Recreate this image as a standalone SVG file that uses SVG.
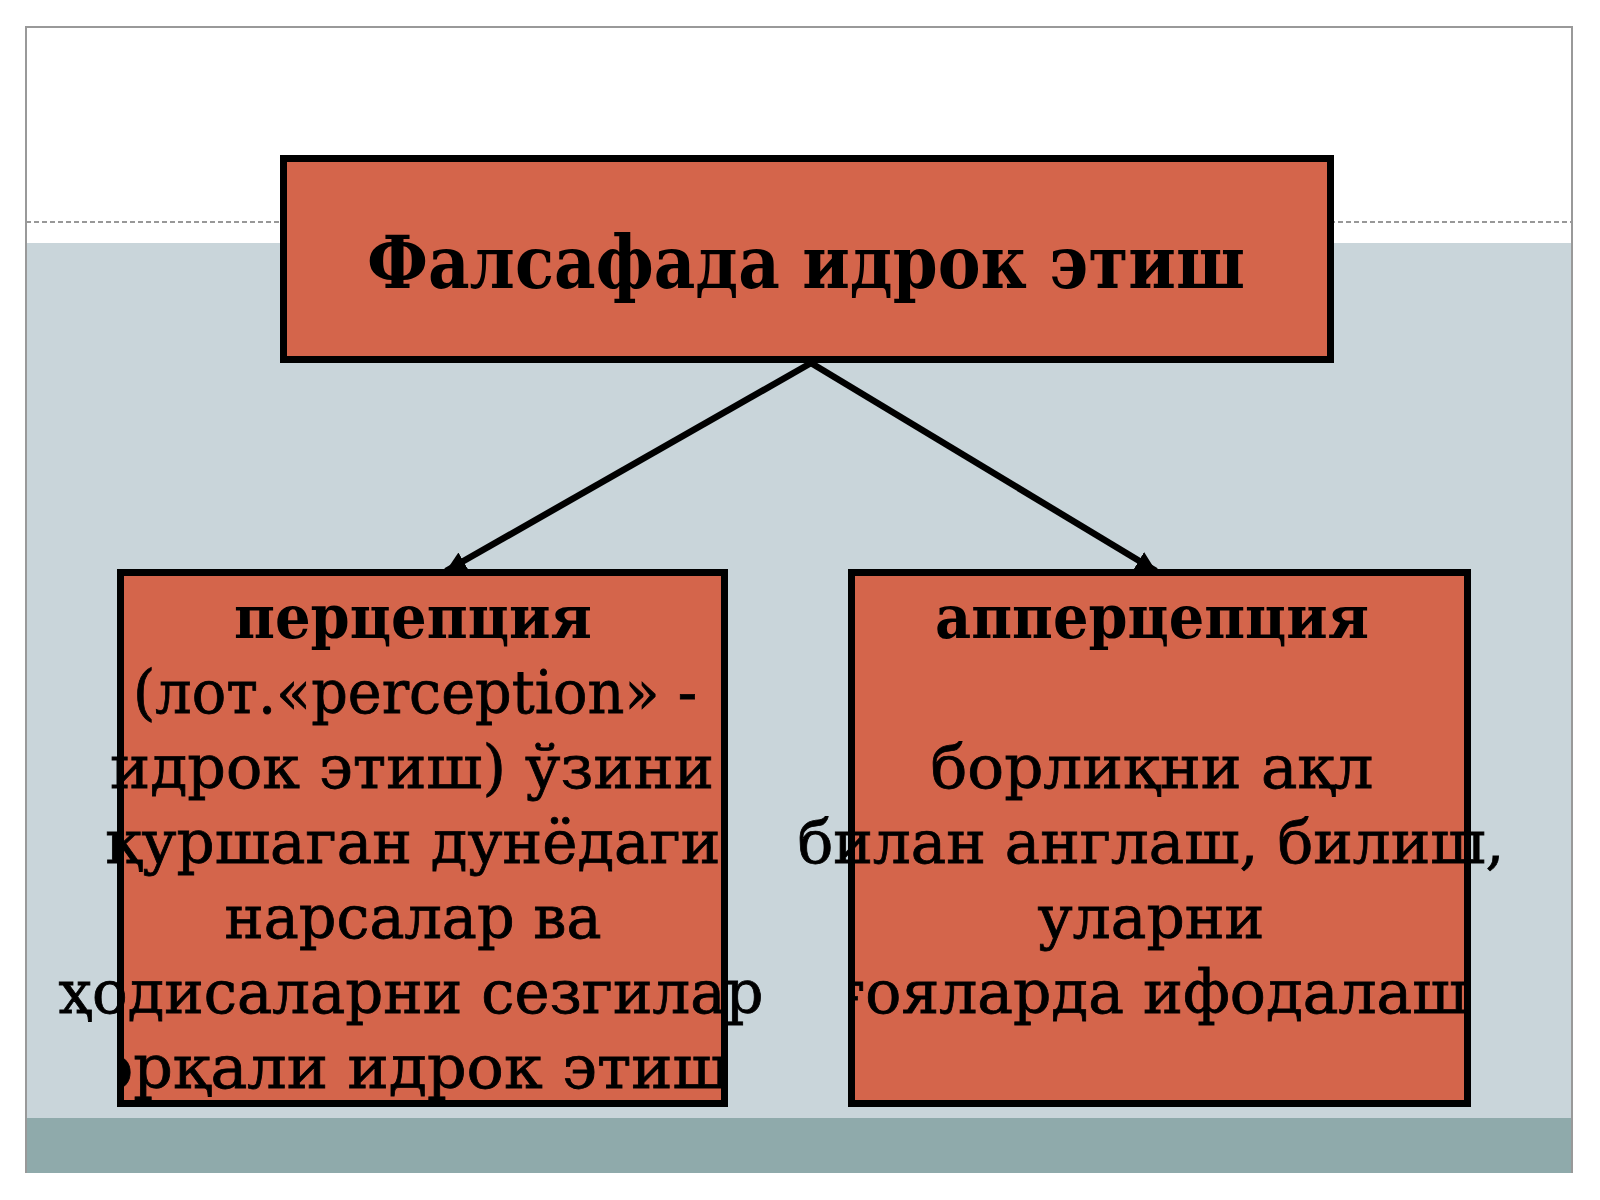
<svg xmlns="http://www.w3.org/2000/svg" width="1600" height="1200" viewBox="0 0 1600 1200">
<style>
.fill{fill:#d4654b;stroke:none}
.frame{fill:none;stroke:#000;stroke-width:7}
.t{font-family:"DejaVu Serif","Liberation Serif",serif;fill:#000;text-anchor:middle}
.b{font-weight:bold}
.body{font-size:60px}
.r{stroke:#000;stroke-width:0.8}
.conn{stroke:#000;stroke-width:6.5;fill:none;marker-end:url(#ah)}
</style>
<defs>
<marker id="ah" markerUnits="userSpaceOnUse" markerWidth="22" markerHeight="22" refX="20" refY="10" orient="auto">
<path d="M0,0 L20,10 L0,20 z" fill="#000"/>
</marker>
<clipPath id="clipL"><rect x="117" y="569" width="611" height="538"/></clipPath>
<clipPath id="clipR"><rect x="848" y="569" width="623" height="538"/></clipPath>
</defs>
<rect x="0" y="0" width="1600" height="1200" fill="#ffffff"/>
<g id="background">
<rect x="26" y="243" width="1546" height="875" fill="#c9d5da"/>
<rect x="26" y="1118" width="1546" height="55" fill="#8faaab"/>
<line x1="26" y1="222" x2="1572" y2="222" stroke="#777" stroke-width="1.5" stroke-dasharray="5,3"/>
<path d="M26,1173 V27 H1572 V1173" fill="none" stroke="#999" stroke-width="2"/>
</g>
<g id="connectors">
<line class="conn" x1="811" y1="363" x2="446" y2="571"/>
<line class="conn" x1="811" y1="363" x2="1156" y2="571"/>
</g>
<g id="node-title">
<rect class="fill" x="283.5" y="158.5" width="1047" height="201"/>
<text class="t b" x="806" y="288" font-size="72" textLength="878" lengthAdjust="spacingAndGlyphs">Фалсафада идрок этиш</text>
<rect class="frame" x="283.5" y="158.5" width="1047" height="201"/>
</g>
<g id="node-perception">
<rect class="fill" x="120.5" y="572.5" width="604" height="531"/>
<text class="t b body" x="413" y="638" textLength="358" lengthAdjust="spacingAndGlyphs">перцепция</text>
<text class="t body r" x="415" y="713" textLength="564" lengthAdjust="spacingAndGlyphs">(лот.«perception» -</text>
<text class="t body r" x="412" y="788" textLength="604" lengthAdjust="spacingAndGlyphs">идрок этиш) ўзини</text>
<text class="t body r" x="413" y="863" textLength="615" lengthAdjust="spacingAndGlyphs">қуршаган дунёдаги</text>
<text class="t body r" x="413" y="938" textLength="377" lengthAdjust="spacingAndGlyphs">нарсалар ва</text>
<text class="t body r" x="411" y="1013" textLength="705" lengthAdjust="spacingAndGlyphs">ҳодисаларни сезгилар</text>
<text class="t body r" x="413" y="1088" textLength="634" lengthAdjust="spacingAndGlyphs" clip-path="url(#clipL)">орқали идрок этиш</text>
<rect class="frame" x="120.5" y="572.5" width="604" height="531"/>
</g>
<g id="node-apperception">
<rect class="fill" x="851.5" y="572.5" width="616" height="531"/>
<text class="t b body" x="1152" y="638" textLength="434" lengthAdjust="spacingAndGlyphs">апперцепция</text>
<text class="t body r" x="1152" y="788" textLength="443" lengthAdjust="spacingAndGlyphs">борлиқни ақл</text>
<text class="t body r" x="1151" y="863" textLength="707" lengthAdjust="spacingAndGlyphs">билан англаш, билиш,</text>
<text class="t body r" x="1151" y="938" textLength="227" lengthAdjust="spacingAndGlyphs">уларни</text>
<text class="t body r" x="1151" y="1013" textLength="634" lengthAdjust="spacingAndGlyphs" clip-path="url(#clipR)">ғояларда ифодалаш</text>
<rect class="frame" x="851.5" y="572.5" width="616" height="531"/>
</g>
</svg>
